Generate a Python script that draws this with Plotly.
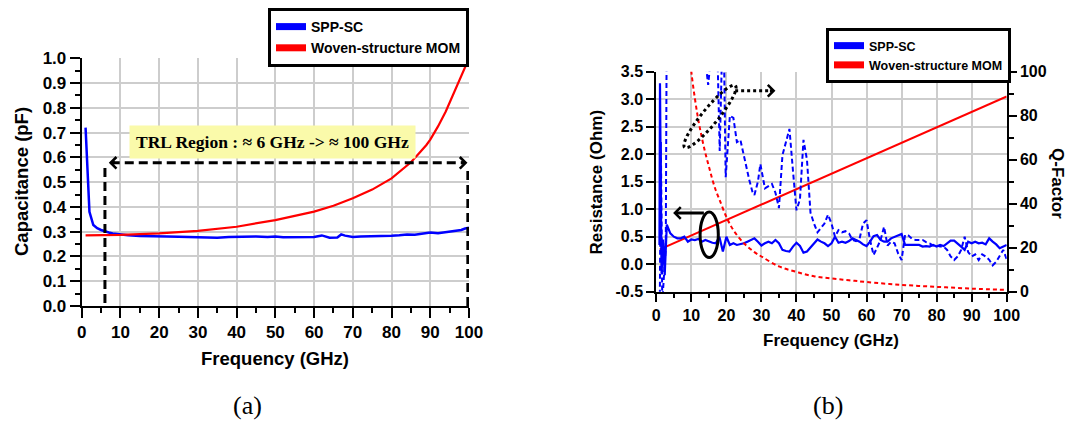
import numpy as np
import plotly.graph_objects as go

# ---------------- panel (a): capacitance ----------------
freq_a_spp = [1, 2, 3, 4, 5, 6, 7, 8, 10, 12, 15, 18, 20, 22, 25, 28, 30, 32, 35, 38, 40, 42, 45, 48,
              50, 52, 55, 58, 60, 62, 64, 66, 67, 68, 70, 72, 75, 78, 80, 82, 84, 86, 88, 90, 92, 94,
              96, 98, 99, 100]
cap_spp = [0.72, 0.38, 0.327, 0.314, 0.307, 0.301, 0.297, 0.293, 0.289, 0.286, 0.283, 0.281, 0.280,
           0.281, 0.280, 0.278, 0.277, 0.278, 0.276, 0.279, 0.280, 0.279, 0.281, 0.279, 0.281, 0.278,
           0.278, 0.279, 0.279, 0.285, 0.276, 0.277, 0.289, 0.284, 0.279, 0.281, 0.281, 0.283, 0.284,
           0.286, 0.289, 0.288, 0.292, 0.297, 0.294, 0.298, 0.302, 0.307, 0.313, 0.316]
freq_a_mom = [1, 10, 20, 30, 40, 50, 60, 65, 70, 75, 80, 82, 85, 87, 89, 90, 92, 94, 96, 98, 100]
cap_mom = [0.285, 0.287, 0.293, 0.303, 0.320, 0.347, 0.381, 0.405, 0.435, 0.470, 0.515, 0.540, 0.580,
           0.615, 0.650, 0.672, 0.725, 0.785, 0.855, 0.925, 1.000]

# ---------------- panel (b): resistance & Q ----------------
freq_r_spp = [0.9, 1.05, 1.5, 2.0, 2.4, 3, 4, 5, 6, 7, 8, 9, 10, 11, 12, 13, 14, 15, 16, 17, 18, 19, 20,
              21, 22, 23, 24, 25, 26, 27, 28, 29, 30, 31, 32, 33, 34, 35, 36, 37, 38, 39, 40, 41, 42,
              43, 44, 45, 46, 47, 48, 49, 50, 51, 52, 53, 54, 55, 56, 57, 58, 59, 60, 61, 62, 63, 64,
              65, 66, 67, 68, 69, 70, 71, 72, 73, 74, 75, 76, 77, 78, 79, 80, 81, 82, 83, 84, 85, 86,
              87, 88, 89, 90, 91, 92, 93, 94, 95, 96, 97, 98, 99, 100]
res_spp = [0.35, 3.29, -0.17, 0.45, -0.20, 0.72, 0.56, 0.50, 0.47, 0.47, 0.50, 0.41, 0.45, 0.44, 0.46,
           0.41, 0.44, 0.41, 0.39, 0.38, 0.50, 0.23, 0.50, 0.35, 0.38, 0.35, 0.36, 0.38, 0.41, 0.44,
           0.47, 0.41, 0.34, 0.38, 0.41, 0.38, 0.44, 0.38, 0.26, 0.24, 0.23, 0.32, 0.39, 0.33, 0.21,
           0.23, 0.31, 0.39, 0.45, 0.41, 0.38, 0.33, 0.38, 0.50, 0.39, 0.41, 0.39, 0.42, 0.47, 0.44,
           0.41, 0.36, 0.33, 0.41, 0.51, 0.53, 0.44, 0.41, 0.41, 0.47, 0.50, 0.53, 0.55, 0.35, 0.35,
           0.35, 0.36, 0.35, 0.32, 0.33, 0.32, 0.35, 0.32, 0.35, 0.33, 0.38, 0.43, 0.43, 0.38, 0.32,
           0.26, 0.41, 0.38, 0.41, 0.38, 0.39, 0.36, 0.47, 0.41, 0.36, 0.29, 0.32, 0.35]
freq_r_mom = [1, 100]
res_mom = [0.27, 3.05]

freq_q_spp = [1.0, 1.3, 1.7, 2.2, 2.7, 3.0, 10, 14.3, 14.8, 15.3, 16, 17.5, 18.1, 18.7, 19.3, 19.8,
              20.5, 21, 22, 23, 24, 25.5, 26.5, 27.5, 28, 29, 29.7, 31, 32, 33, 34, 35, 36, 37, 38,
              39, 40, 41, 42, 43, 44, 45, 46, 47, 48, 49, 50, 51, 52, 53, 54, 55, 56, 57, 58, 59, 60,
              61, 62, 63, 64, 65, 66, 67, 68, 69, 70, 71, 72, 73, 74, 75, 76, 77, 78, 79, 80, 81, 82,
              83, 84, 85, 86, 87, 88, 89, 90, 91, 92, 93, 94, 95, 96, 97, 98, 99, 100]
q_spp = [-5, 68, -5, 10, 20, 130, 160, 101, 94, 102, 130, 105, 64, 105, 110, 52, 70, 80, 79, 68, 69,
         58, 51, 45, 44, 50, 58, 47, 48, 49, 45, 38, 62, 68, 74, 55, 37, 42, 69, 60, 36, 31, 27, 29,
         31, 35, 31, 25, 28, 27, 27.5, 26.5, 23.5, 23, 24, 31, 32.5, 23.5, 16.7, 20, 23.5, 29.5, 21,
         22.7, 22, 17.4, 14.4, 25.8, 25.5, 24, 23.5, 23.5, 23.5, 22.5, 22, 21, 21, 20.5, 20.5, 19,
         16, 14.4, 16, 19, 25, 18, 16, 17, 14.4, 17, 16, 14.5, 12, 13.6, 16, 19, 14.7]
freq_q_mom = [9.5, 10, 11, 12, 13, 14, 15, 16, 17, 18, 20, 22, 25, 28, 30, 35, 40, 45, 50, 55, 60, 70,
              80, 90, 100]
q_mom = [110, 100, 88, 78, 70, 63, 57, 51, 46, 42, 34, 28, 22, 18, 16, 11.5, 9, 7, 6.0, 5.2, 4.4,
         3.1, 2.2, 1.4, 0.8]

# ---------------- tick labels ----------------
freq_ticks = [0, 10, 20, 30, 40, 50, 60, 70, 80, 90, 100]
cap_tickvals = [0.0, 0.1, 0.2, 0.3, 0.4, 0.5, 0.6, 0.7, 0.8, 0.9, 1.0]
cap_ticktext = ["0.0", "0.1", "0.2", "0.3", "0.4", "0.5", "0.6", "0.7", "0.8", "0.9", "1.0"]
res_tickvals = [-0.5, 0.0, 0.5, 1.0, 1.5, 2.0, 2.5, 3.0, 3.5]
res_ticktext = ["-0.5", "0.0", "0.5", "1.0", "1.5", "2.0", "2.5", "3.0", "3.5"]
q_tickvals = [0, 20, 40, 60, 80, 100]
q_ticktext = ["0", "20", "40", "60", "80", "100"]

BLUE = "#0000FF"
RED = "#FF0000"
GRID = "#cdcdcd"
BOLD = dict(family="Arial", color="black", weight="bold")

fig = go.Figure()

# panel (a)
fig.add_trace(go.Scatter(x=freq_a_spp, y=cap_spp, mode="lines", line=dict(color=BLUE, width=2.5),
                         showlegend=False, xaxis="x", yaxis="y"))
fig.add_trace(go.Scatter(x=freq_a_mom, y=cap_mom, mode="lines", line=dict(color=RED, width=2.2),
                         showlegend=False, xaxis="x", yaxis="y"))
# panel (b)
fig.add_trace(go.Scatter(x=freq_q_mom, y=q_mom, mode="lines", line=dict(color=RED, width=2, dash="4px,3px", shape="spline"),
                         showlegend=False, xaxis="x2", yaxis="y3"))
fig.add_trace(go.Scatter(x=freq_q_spp, y=q_spp, mode="lines", line=dict(color=BLUE, width=2, dash="5px,3px"),
                         showlegend=False, xaxis="x2", yaxis="y3"))
fig.add_trace(go.Scatter(x=freq_r_mom, y=res_mom, mode="lines", line=dict(color=RED, width=2),
                         showlegend=False, xaxis="x2", yaxis="y2"))
fig.add_trace(go.Scatter(x=freq_r_spp, y=res_spp, mode="lines", line=dict(color=BLUE, width=2.2),
                         showlegend=False, xaxis="x2", yaxis="y2"))

# legend entries
for name, col in [("SPP-SC", BLUE), ("Woven-structure MOM", RED)]:
    fig.add_trace(go.Scatter(x=[None], y=[None], mode="lines", line=dict(color=col, width=7),
                             name=name, legend="legend", xaxis="x", yaxis="y"))
for name, col in [("SPP-SC", BLUE), ("Woven-structure MOM", RED)]:
    fig.add_trace(go.Scatter(x=[None], y=[None], mode="lines", line=dict(color=col, width=7),
                             name=name, legend="legend2", xaxis="x2", yaxis="y2"))

W, H = 1070, 423
def px(xp): return xp / W
def py(yp): return 1 - yp / H

axis_common = dict(showline=True, linecolor="black", linewidth=2, ticks="outside", tickcolor="black",
                   tickwidth=1.5, zeroline=False, gridcolor=GRID, gridwidth=1.5, automargin=False)

fig.update_layout(
    width=W, height=H, autosize=False,
    margin=dict(l=0, r=0, t=0, b=0, pad=0, autoexpand=False),
    paper_bgcolor="white", plot_bgcolor="white", showlegend=True,
    legend=dict(x=px(268), y=py(8), xanchor="left", yanchor="top", bordercolor="black", borderwidth=3,
                bgcolor="white", font=dict(size=14, **BOLD), tracegroupgap=0, itemwidth=30),
    legend2=dict(x=px(826), y=py(28), xanchor="left", yanchor="top", bordercolor="black", borderwidth=3,
                 bgcolor="white", font=dict(size=12.5, **BOLD), tracegroupgap=0, itemwidth=30),
    xaxis=dict(domain=[px(81.7), px(469)], range=[0, 100], anchor="y", tickmode="array",
               tickvals=freq_ticks, ticklen=10, showgrid=True, tickfont=dict(size=17, **BOLD),
               minor=dict(dtick=5, tick0=0, ticks="outside", ticklen=5, tickcolor="black", showgrid=False),
               **axis_common),
    yaxis=dict(domain=[py(306), py(58.3)], range=[0, 1.0], anchor="x", tickmode="array",
               tickvals=cap_tickvals, ticktext=cap_ticktext, ticklen=10, showgrid=True,
               tickfont=dict(size=17, **BOLD),
               minor=dict(dtick=0.05, tick0=0, ticks="outside", ticklen=5, tickcolor="black", showgrid=False),
               **axis_common),
    xaxis2=dict(domain=[px(656.3), px(1006.7)], range=[0, 100], anchor="y2", tickmode="array",
                tickvals=freq_ticks, ticklen=8, showgrid=True, tickfont=dict(size=16, **BOLD),
                minor=dict(dtick=5, tick0=0, ticks="outside", ticklen=4, tickcolor="black", showgrid=False),
                **axis_common),
    yaxis2=dict(domain=[py(291.7), py(71.7)], range=[-0.5, 3.5], anchor="x2", tickmode="array",
                tickvals=res_tickvals, ticktext=res_ticktext, ticklen=8, showgrid=True,
                tickfont=dict(size=16, **BOLD), **axis_common),
    yaxis3=dict(range=[0, 100], overlaying="y2", side="right", anchor="x2", tickmode="array",
                tickvals=q_tickvals, ticktext=q_ticktext, ticklen=8, showgrid=False,
                tickfont=dict(size=16, **BOLD),
                minor=dict(dtick=10, tick0=0, ticks="outside", ticklen=5, tickcolor="black", showgrid=False),
                **axis_common),
)

# ---------- text annotations (titles, labels) ----------
C = dict(xref="paper", yref="paper", xanchor="center", yanchor="middle", showarrow=False)
ann = []
ann.append(dict(text="Capacitance (pF)", x=px(22), y=py(182), textangle=-90,
                font=dict(size=18.5, **BOLD), **C))
ann.append(dict(text="Frequency (GHz)", x=px(275), y=py(358), font=dict(size=18.5, **BOLD), **C))
ann.append(dict(text="Resistance (Ohm)", x=px(596), y=py(182.5), textangle=-90,
                font=dict(size=17, **BOLD), **C))
ann.append(dict(text="Q-Factor", x=px(1058), y=py(183), textangle=90, font=dict(size=17, **BOLD), **C))
ann.append(dict(text="Frequency (GHz)", x=px(831), y=py(340), font=dict(size=17, **BOLD), **C))
ann.append(dict(text="(a)", x=px(247), y=py(405), font=dict(family="Times New Roman", size=26, color="black"), **C))
ann.append(dict(text="(b)", x=px(828), y=py(405), font=dict(family="Times New Roman", size=26, color="black"), **C))
ann.append(dict(text="TRL Region : \u2248 6 GHz -> \u2248 100 GHz", x=49.3, y=0.661, xref="x", yref="y",
                xanchor="center", yanchor="middle", showarrow=False, bgcolor="#FAFAAA", borderpad=6,
                font=dict(family="Times New Roman", size=17.5, color="black", weight="bold")))

# arrow heads (panel a)
ann.append(dict(text="", x=7.0, y=0.578, ax=9.0, ay=0.578, xref="x", yref="y", axref="x", ayref="y",
                showarrow=True, arrowhead=4, arrowsize=0.75, arrowwidth=3, arrowcolor="black"))
ann.append(dict(text="", x=99.6, y=0.578, ax=97.6, ay=0.578, xref="x", yref="y", axref="x", ayref="y",
                showarrow=True, arrowhead=4, arrowsize=0.75, arrowwidth=3, arrowcolor="black"))
# panel b arrows
ann.append(dict(text="", x=4.8, y=0.93, ax=14.0, ay=0.93, xref="x2", yref="y2", axref="x2", ayref="y2",
                showarrow=True, arrowhead=4, arrowsize=0.75, arrowwidth=3, arrowcolor="black"))
ann.append(dict(text="", x=34.0, y=3.155, ax=32.0, ay=3.155, xref="x2", yref="y2", axref="x2", ayref="y2",
                showarrow=True, arrowhead=4, arrowsize=0.75, arrowwidth=3, arrowcolor="black"))
fig.update_layout(annotations=ann)

# ---------- shapes ----------
shapes = []
shapes.append(dict(type="line", xref="x", yref="y", x0=7.5, x1=99.0, y0=0.578, y1=0.578,
                   line=dict(color="black", width=3, dash="9px,5px")))
shapes.append(dict(type="line", xref="x", yref="y", x0=6.0, x1=6.0, y0=0.012, y1=0.575,
                   line=dict(color="black", width=3, dash="9px,5px")))
shapes.append(dict(type="line", xref="x", yref="y", x0=99.7, x1=99.7, y0=0.0, y1=0.555,
                   line=dict(color="black", width=3, dash="9px,5px")))
shapes.append(dict(type="circle", xref="x2", yref="y2", x0=12.5, x1=17.7, y0=0.12, y1=0.95,
                   line=dict(color="black", width=3)))

def to_x2(p): return (p - 656.3) / 350.4 * 100
def to_y2(p): return -0.5 + (291.7 - p) / 220.0 * 4
cx, cy, a, b = 710.0, 116.5, 40.0, 8.0
th = np.arctan2(-61.0, 50.0)
pts = []
for t in np.linspace(0, 2 * np.pi, 48):
    xx = cx + a * np.cos(th) * np.cos(t) - b * np.sin(th) * np.sin(t)
    yy = cy + a * np.sin(th) * np.cos(t) + b * np.cos(th) * np.sin(t)
    pts.append((to_x2(xx), to_y2(yy)))
path = "M " + " L ".join(f"{x:.3f},{y:.4f}" for x, y in pts) + " Z"
shapes.append(dict(type="path", xref="x2", yref="y2", path=path,
                   line=dict(color="black", width=3, dash="dot")))
shapes.append(dict(type="line", xref="x2", yref="y2", x0=22.5, x1=33.0, y0=3.155, y1=3.155,
                   line=dict(color="black", width=3, dash="dot")))
fig.update_layout(shapes=shapes)

# remove the default page margin so the 1070x423 figure fills the window exactly
fig.write_html("out.html", config={"displayModeBar": False},
               post_script="document.body.style.margin='0';document.body.style.overflow='hidden';")
